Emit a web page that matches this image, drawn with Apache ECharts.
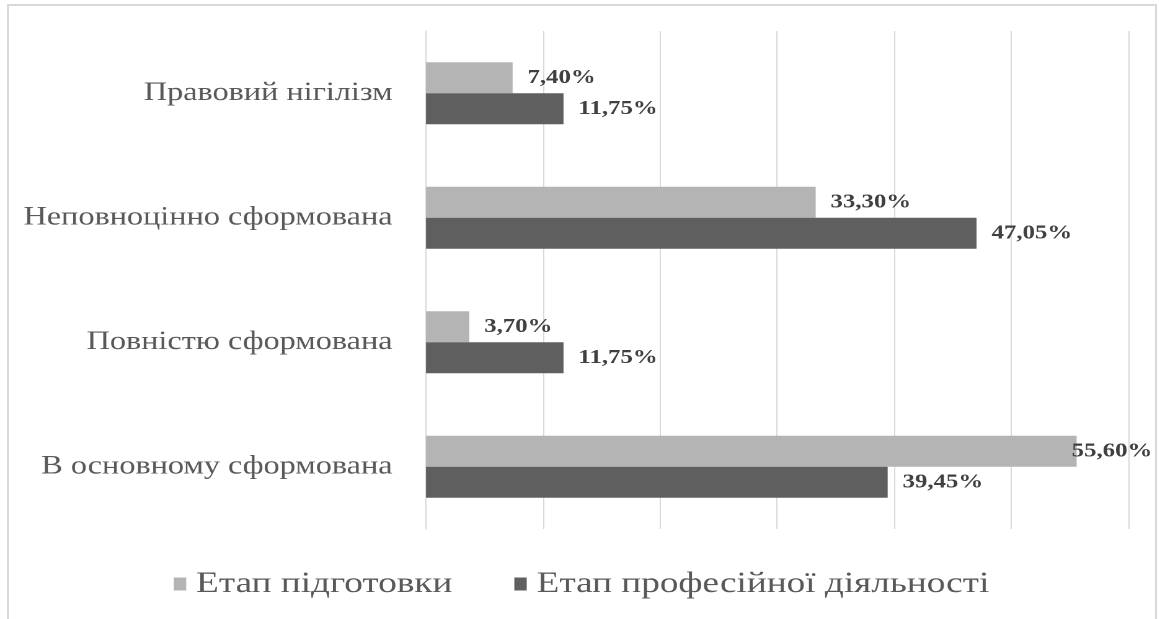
<!DOCTYPE html>
<html>
<head>
<meta charset="utf-8">
<script src="https://cdn.jsdelivr.net/npm/echarts@6/dist/echarts.min.js"></script>
<style>
  html, body { margin: 0; padding: 0; background: #fff; overflow: hidden; }
  #frame { position: absolute; left: 7px; top: 4px; width: 1146px; height: 640px; border: 2px solid #d9d9d9; }
  /* the chart is laid out narrower and widened, giving the broad serif lettering */
  #chart { position: absolute; left: 0; top: 0; width: 938px; height: 619px;
           transform-origin: 0 0; transform: scaleX(1.24); }
</style>
</head>
<body>
<div id="frame"></div>
<div id="chart"></div>
<script>
// Рівень сформованості правової культури (%)
const categories = [
  'Правовий нігілізм',
  'Неповноцінно сформована',
  'Повністю сформована',
  'В основному сформована'
];
const seriesNames = ['Етап підготовки', 'Етап професійної діяльності'];
const preparation = [7.40, 33.30, 3.70, 55.60];
const professional = [11.75, 47.05, 11.75, 39.45];

const SX = 1.24; // horizontal widening of the chart box

const serif = '"Liberation Serif", "DejaVu Serif", serif';
const labelFont = {
  fontFamily: serif,
  fontWeight: 'bold',
  fontSize: 20,
  color: '#404040'
};

function fmt(v) {
  return v.toFixed(2).replace('.', ',') + '%';
}

function withLabels(values) {
  return values.map(function (v) {
    // the longest bar keeps its label inside the plot area
    const item = { value: v };
    if (v > 50) item.label = { distance: -4 };
    return item;
  });
}

function barSeries(name, values, color) {
  return {
    name: name,
    type: 'bar',
    data: withLabels(values),
    barWidth: 31,
    barGap: '0%',
    itemStyle: { color: color },
    label: Object.assign({
      show: true,
      position: 'right',
      distance: 12,
      formatter: function (p) { return fmt(p.value); }
    }, labelFont)
  };
}

const chart = echarts.init(document.getElementById('chart'), null, { devicePixelRatio: 2 });
chart.setOption({
  animation: false,
  backgroundColor: 'transparent',
  grid: {
    left: 426 / SX, right: 35 / SX, top: 31, bottom: 90,
    containLabel: false, outerBoundsMode: 'none'
  },
  xAxis: {
    type: 'value',
    min: 0,
    max: 60,
    interval: 10,
    axisLabel: { show: false },
    axisLine: { show: false },
    axisTick: { show: false },
    splitLine: { show: true, lineStyle: { color: '#d9d9d9', width: 1 } }
  },
  yAxis: {
    type: 'category',
    inverse: true,
    data: categories,
    axisLine: { show: true, lineStyle: { color: '#d9d9d9' } },
    axisTick: { show: false },
    axisLabel: {
      margin: 27,
      fontFamily: serif,
      fontSize: 26,
      color: '#595959'
    }
  },
  legend: {
    bottom: 15,
    left: 'center',
    itemWidth: 10,
    itemHeight: 13,
    itemGap: 50,
    icon: 'rect',
    textStyle: {
      fontFamily: serif,
      fontSize: 30,
      color: '#595959',
      padding: [0, 0, 0, 3]
    },
    data: seriesNames
  },
  series: [
    barSeries(seriesNames[0], preparation, '#b4b4b4'),
    barSeries(seriesNames[1], professional, '#5f5f5f')
  ]
});
</script>
</body>
</html>
